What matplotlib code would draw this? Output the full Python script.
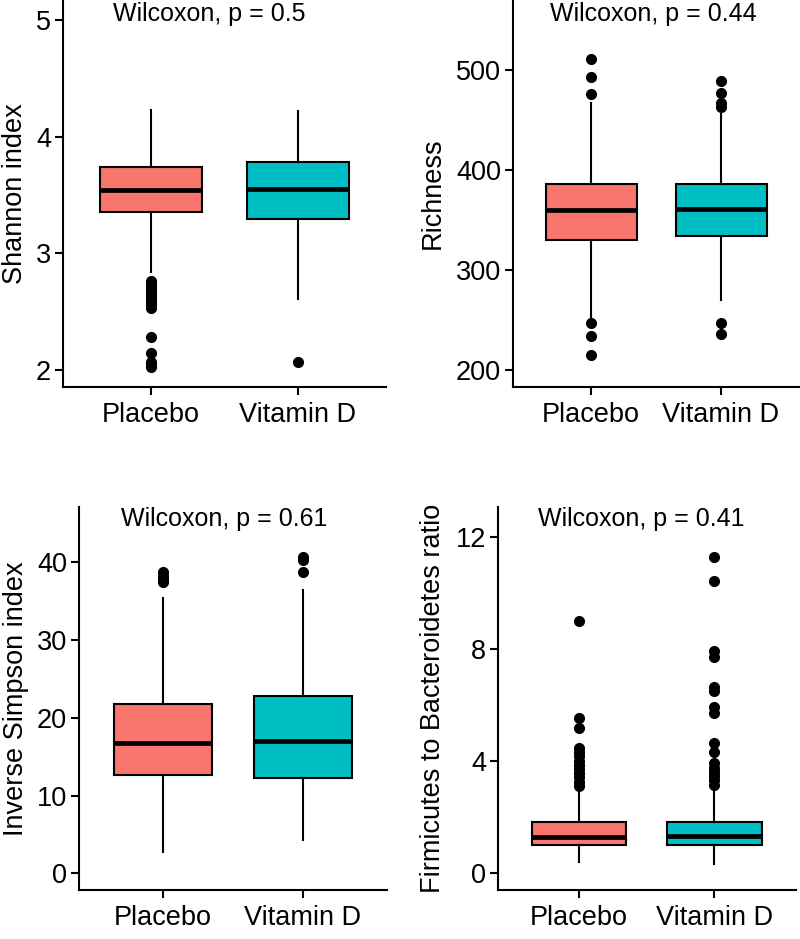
import matplotlib
matplotlib.use("Agg")
import matplotlib.pyplot as plt

plt.rcParams['font.family'] = ['Liberation Sans', 'DejaVu Sans']

groups = ["Placebo", "Vitamin D"]
colors = ["#F8766D", "#00BFC4"]

# Shannon index
shannon_q1 = [3.35, 3.29]
shannon_med = [3.54, 3.555]
shannon_q3 = [3.743, 3.786]
shannon_whislo = [2.84, 2.61]
shannon_whishi = [4.23, 4.22]
shannon_out_placebo = [2.76, 2.74, 2.72, 2.70, 2.68, 2.66, 2.64, 2.62, 2.60, 2.58,
                       2.56, 2.54, 2.53, 2.28, 2.15, 2.07, 2.05, 2.03]
shannon_out_vitd = [2.07]

# Richness
rich_q1 = [330, 334]
rich_med = [360, 361]
rich_q3 = [385.7, 385.7]
rich_whislo = [251, 270]
rich_whishi = [467, 458]
rich_out_placebo = [511, 493, 476, 247, 234, 215]
rich_out_vitd = [489, 477, 467, 463, 247, 236]

# Inverse Simpson
invs_q1 = [12.65, 12.3]
invs_med = [16.7, 17.05]
invs_q3 = [21.8, 22.85]
invs_whislo = [2.8, 4.3]
invs_whishi = [35.4, 36.5]
invs_out_placebo = [38.8, 38.3, 37.8, 37.5]
invs_out_vitd = [40.7, 40.3, 38.7]

# Firmicutes / Bacteroidetes ratio
fb_q1 = [0.99, 0.99]
fb_med = [1.29, 1.32]
fb_q3 = [1.8, 1.8]
fb_whislo = [0.39, 0.3]
fb_whishi = [3.0, 3.0]
fb_out_placebo = [8.98, 5.51, 5.16, 4.45, 4.3, 4.15, 4.0, 3.85, 3.7, 3.55, 3.4, 3.25, 3.1]
fb_out_vitd = [11.29, 10.4, 7.9, 7.7, 6.64, 6.47, 5.93, 5.71, 4.62, 4.32,
               3.9, 3.75, 3.6, 3.45, 3.3, 3.13]

panels = [
    dict(q1=shannon_q1, med=shannon_med, q3=shannon_q3, lo=shannon_whislo, hi=shannon_whishi,
         out=[shannon_out_placebo, shannon_out_vitd], ylabel="Shannon index",
         ylim=(1.855, 5.17), yticks=[2, 3, 4, 5], label="Wilcoxon, p = 0.5",
         pos=[63/800, 1-387/939, 323/800, 387/939], tx=0.454, ty=0.995, lp=5.5),
    dict(q1=rich_q1, med=rich_med, q3=rich_q3, lo=rich_whislo, hi=rich_whishi,
         out=[rich_out_placebo, rich_out_vitd], ylabel="Richness",
         ylim=(183, 570), yticks=[200, 300, 400, 500], label="Wilcoxon, p = 0.44",
         pos=[513/800, 1-387/939, 286/800, 387/939], tx=0.49, ty=0.995, lp=7),
    dict(q1=invs_q1, med=invs_med, q3=invs_q3, lo=invs_whislo, hi=invs_whishi,
         out=[invs_out_placebo, invs_out_vitd], ylabel="Inverse Simpson index",
         ylim=(-2.15, 47.15), yticks=[0, 10, 20, 30, 40], label="Wilcoxon, p = 0.61",
         pos=[79/800, 1-890/939, 308/800, 383.3/939], tx=0.473, ty=1.0, lp=5.5),
    dict(q1=fb_q1, med=fb_med, q3=fb_q3, lo=fb_whislo, hi=fb_whishi,
         out=[fb_out_placebo, fb_out_vitd], ylabel="Firmicutes to Bacteroidetes ratio",
         ylim=(-0.62, 13.07), yticks=[0, 4, 8, 12], label="Wilcoxon, p = 0.41",
         pos=[497.7/800, 1-890/939, 298/800, 383.3/939], tx=0.483, ty=1.0, lp=7),
]

fig = plt.figure(figsize=(8, 9.39), dpi=100)
fig.patch.set_facecolor("white")

lw = 1.5
for p in panels:
    ax = fig.add_axes(p["pos"])
    stats = []
    for i in range(2):
        stats.append(dict(med=p["med"][i], q1=p["q1"][i], q3=p["q3"][i],
                          whislo=p["lo"][i], whishi=p["hi"][i], fliers=p["out"][i]))
    bp = ax.bxp(stats, positions=[1, 2], widths=0.7, patch_artist=True, showcaps=False,
                boxprops=dict(linewidth=lw, edgecolor="black"),
                medianprops=dict(color="black", linewidth=3.4, solid_capstyle="butt"),
                whiskerprops=dict(color="black", linewidth=lw),
                flierprops=dict(marker="o", markerfacecolor="black", markeredgecolor="black",
                                markersize=7, linestyle="none"))
    for patch, c in zip(bp["boxes"], colors):
        patch.set_facecolor(c)
        patch.set_zorder(2)
    for m in bp["medians"]:
        m.set_zorder(3)
    ax.set_xlim(0.4, 2.6)
    ax.set_ylim(*p["ylim"])
    ax.set_yticks(p["yticks"])
    ax.set_xticks([1, 2])
    ax.set_xticklabels(groups)
    for s in ["top", "right"]:
        ax.spines[s].set_visible(False)
    for s in ["left", "bottom"]:
        ax.spines[s].set_linewidth(lw)
        ax.spines[s].set_color("black")
    ax.tick_params(axis="both", length=5.5, width=lw, color="black", labelsize=19.5,
                   labelcolor="black")
    ax.tick_params(axis="x", pad=5)
    ax.tick_params(axis="y", pad=3)
    ax.set_ylabel(p["ylabel"], fontsize=19.5, labelpad=p["lp"])
    ax.text(p["tx"], p["ty"], p["label"], transform=ax.transAxes, ha="center", va="top",
            fontsize=18, color="black")
    ax.set_facecolor("white")

fig.savefig("out.png", dpi=100, facecolor="white")
